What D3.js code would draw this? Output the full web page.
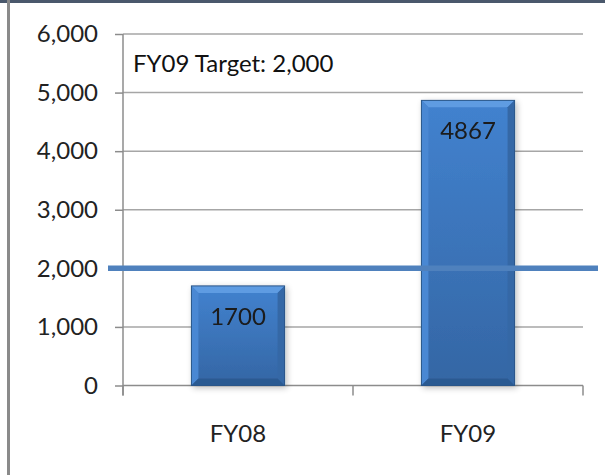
<!DOCTYPE html>
<html>
<head>
<meta charset="utf-8">
<script src="https://cdn.jsdelivr.net/npm/d3@7"></script>
<style>
  html, body { margin: 0; padding: 0; background: #fff; }
  svg { display: block; font-family: Lato, "Open Sans", sans-serif; }
</style>
</head>
<body>
<svg id="chart" width="605" height="475"></svg>
<script>
// chart data
var categories = ['FY08', 'FY09'];
var values = [1700, 4867];
var target = 2000;
var targetLabel = 'FY09 Target: 2,000';
var yTicks = [0, 1000, 2000, 3000, 4000, 5000, 6000];

var svg = d3.select('#chart');

// frame: dark strip on top, gray rule on the left
svg.append('rect').attr('x', 0).attr('y', 0).attr('width', 605).attr('height', 3)
  .attr('fill', '#4a586c');
svg.append('rect').attr('x', 7).attr('y', 0).attr('width', 3).attr('height', 475)
  .attr('fill', '#8a8a8a');

var plot = { left: 123, right: 583, top: 34, bottom: 385.5 };

var x = d3.scaleBand().domain(categories).range([plot.left, plot.right]);
var y = d3.scaleLinear().domain([0, 6000]).range([plot.bottom, plot.top]);

var defs = svg.append('defs');
var grad = defs.append('linearGradient').attr('id', 'barFill')
  .attr('x1', 0).attr('y1', 0).attr('x2', 0).attr('y2', 1);
grad.append('stop').attr('offset', '0%').attr('stop-color', '#4282cf');
grad.append('stop').attr('offset', '100%').attr('stop-color', '#3466a4');

var shadow = defs.append('filter').attr('id', 'shadow')
  .attr('x', '-20%').attr('y', '-20%').attr('width', '150%').attr('height', '140%');
shadow.append('feGaussianBlur').attr('in', 'SourceAlpha').attr('stdDeviation', 3);
shadow.append('feOffset').attr('dx', 2).attr('dy', 2).attr('result', 'blur');
shadow.append('feComponentTransfer').append('feFuncA').attr('type', 'linear').attr('slope', 0.25);
var merge = shadow.append('feMerge');
merge.append('feMergeNode');
merge.append('feMergeNode').attr('in', 'SourceGraphic');

// gridlines
svg.append('g').selectAll('line').data(yTicks.slice(1)).join('line')
  .attr('x1', plot.left).attr('x2', plot.right)
  .attr('y1', function(d) { return y(d); }).attr('y2', function(d) { return y(d); })
  .attr('stroke', '#a6a6a6').attr('stroke-width', 1.5);

// y axis
var yAxis = svg.append('g').attr('transform', 'translate(' + plot.left + ',0)')
  .call(d3.axisLeft(y).tickValues(yTicks).tickFormat(d3.format(',')).tickSize(8).tickPadding(17));
yAxis.select('.domain').attr('d', 'M0,' + plot.top + 'V' + (plot.bottom + 10))
  .attr('stroke', '#8c8c8c').attr('stroke-width', 1.5);
yAxis.selectAll('.tick line').attr('stroke', '#8c8c8c').attr('stroke-width', 1.5);
yAxis.selectAll('.tick text').attr('font-size', 24).attr('fill', '#222')
  .attr('font-family', 'Lato, "Open Sans", sans-serif');

// x axis
var xAxis = svg.append('g').attr('transform', 'translate(0,' + plot.bottom + ')');
xAxis.append('line').attr('x1', plot.left).attr('x2', plot.right)
  .attr('stroke', '#8c8c8c').attr('stroke-width', 1.5);
var edges = [plot.left].concat(categories.map(function(c) { return x(c) + x.bandwidth(); }));
xAxis.selectAll('.xtick').data(edges).join('line').attr('class', 'xtick')
  .attr('x1', function(d) { return d; }).attr('x2', function(d) { return d; })
  .attr('y1', 0).attr('y2', 10)
  .attr('stroke', '#8c8c8c').attr('stroke-width', 1.5);
xAxis.selectAll('text').data(categories).join('text')
  .attr('x', function(d) { return x(d) + x.bandwidth() / 2; })
  .attr('y', 56)
  .attr('text-anchor', 'middle').attr('font-size', 24).attr('fill', '#222')
  .text(function(d) { return d; });

// bars with a soft bevel
var barW = x.bandwidth() * 0.405;
var bev = 7;
var bars = svg.append('g').selectAll('g.bar').data(values).join('g').attr('class', 'bar')
  .attr('filter', 'url(#shadow)');

bars.each(function(v, i) {
  var g = d3.select(this);
  var x0 = x(categories[i]) + (x.bandwidth() - barW) / 2;
  var x1 = x0 + barW;
  var y0 = y(v);
  var y1 = y(0);
  g.append('rect').attr('x', x0).attr('y', y0).attr('width', barW).attr('height', y1 - y0)
    .attr('fill', 'url(#barFill)');
  function poly(pts, fill) {
    g.append('polygon').attr('points', pts.map(function(p) { return p.join(','); }).join(' '))
      .attr('fill', fill);
  }
  poly([[x0, y0], [x1, y0], [x1 - bev, y0 + bev], [x0 + bev, y0 + bev]], '#5f9ce2');
  poly([[x0, y0], [x0 + bev, y0 + bev], [x0 + bev, y1 - bev], [x0, y1]], '#4a88d3');
  poly([[x1, y0], [x1, y1], [x1 - bev, y1 - bev], [x1 - bev, y0 + bev]], '#3467a6');
  poly([[x0, y1], [x0 + bev, y1 - bev], [x1 - bev, y1 - bev], [x1, y1]], '#2c5a92');
  g.append('rect').attr('x', x0).attr('y', y0).attr('width', barW).attr('height', y1 - y0)
    .attr('fill', 'none').attr('stroke', '#2b5689').attr('stroke-width', 1);
  g.append('text').attr('x', (x0 + x1) / 2).attr('y', y0 + 39)
    .attr('text-anchor', 'middle').attr('font-size', 24).attr('fill', '#1a1a1a')
    .text(v);
});

// target line
svg.append('line').attr('x1', 108).attr('x2', 598)
  .attr('y1', y(target)).attr('y2', y(target))
  .attr('stroke', '#4f81bd').attr('stroke-width', 5.5);

svg.append('text').attr('x', 133).attr('y', 72)
  .attr('font-size', 24).attr('fill', '#111')
  .text(targetLabel);
</script>
</body>
</html>
